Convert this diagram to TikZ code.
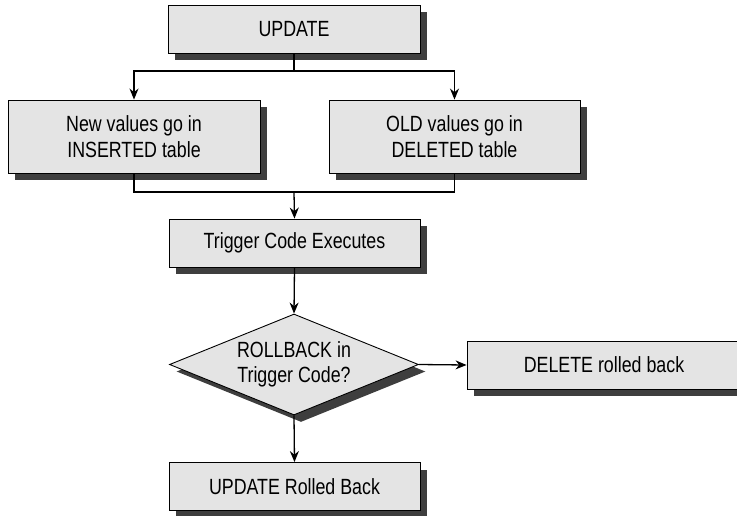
\documentclass[tikz,border=0pt]{standalone}
\usepackage{fontspec}
\setmainfont{Liberation Sans}[FakeStretch=0.81]
\usepackage{tikz}
\usetikzlibrary{arrows.meta, shapes.geometric, shadows}

\definecolor{boxgray}{HTML}{E4E4E4}
\definecolor{shadowgray}{HTML}{3E3E3E}

\begin{document}
\begin{tikzpicture}[x=1pt, y=-1pt,
  box/.style={draw, line width=0.9pt, fill=boxgray, inner sep=0pt,
    align=center, font=\fontsize{22}{25.5}\selectfont,
    drop shadow={shadow xshift=7pt, shadow yshift=-7pt, fill=shadowgray, opacity=1}},
  decision/.style={box, diamond, shape aspect=2.465,
    minimum width=249pt, minimum height=101pt},
  flow/.style={line width=1.3pt, -{Stealth[length=11pt, width=9pt]}},
  link/.style={line width=1.3pt}]
  \useasboundingbox (0,0) rectangle (737,515);
  % Boites
  \node[box, minimum width=252pt, minimum height=48pt] (upd) at (294,29) {UPDATE};
  \node[box, minimum width=252pt, minimum height=73pt] (ins) at (134,136.5)
    {New values go in\\INSERTED table};
  \node[box, minimum width=251pt, minimum height=73pt] (del) at (454.5,136.5)
    {OLD values go in\\DELETED table};
  \node[box, minimum width=251pt, minimum height=48pt] (trig) at (294.5,243)
    {Trigger Code Executes};
  \node[decision] (roll) at (294,364.5) {ROLLBACK in\\Trigger Code?};
  \node[box, minimum width=274pt, minimum height=48pt] (delrb) at (604,365)
    {DELETE rolled back};
  \node[box, minimum width=251pt, minimum height=48pt] (updrb) at (294.5,486.5)
    {UPDATE Rolled Back};
  % Points de jonction
  \coordinate (split) at (294,71);
  \coordinate (merge) at (294,192);
  % Liaisons
  \draw[link] (upd.south) -- (split);
  \draw[flow] (split) -| (ins.north);
  \draw[flow] (split) -| (del.north);
  \draw[link] (ins.south) |- (merge) -| (del.south);
  \draw[flow] (merge) -- (trig.north);
  \draw[flow] (trig.south) -- (roll.north);
  \draw[flow] (roll.east) -- (delrb.west);
  \draw[flow] (roll.south) -- (updrb.north);
\end{tikzpicture}
\end{document}
